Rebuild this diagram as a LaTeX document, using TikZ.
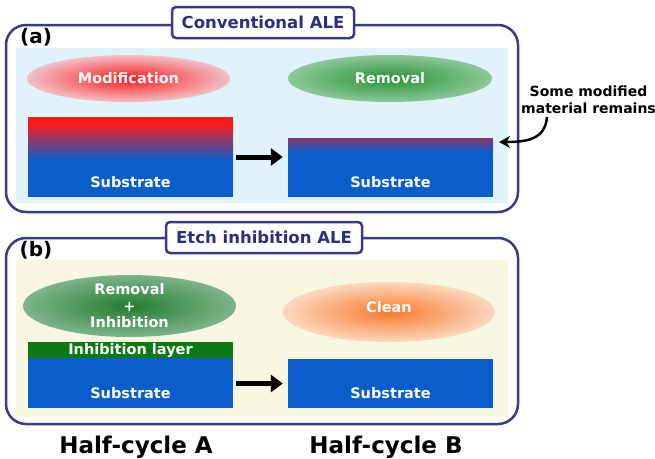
\documentclass[tikz,border=0pt]{standalone}
\usepackage{fontspec}
\setmainfont{DejaVu Sans}
\usetikzlibrary{arrows.meta,shapes.geometric}
\definecolor{navy}{HTML}{3A3A88}
\definecolor{titletext}{HTML}{2E2E7E}
\definecolor{lblue}{HTML}{E0F2FA}
\definecolor{lyellow}{HTML}{F8F8E2}
\definecolor{subblue}{HTML}{0B5DCB}
\definecolor{inhgreen}{HTML}{0A7A12}
\definecolor{modred}{HTML}{FF1A1A}
\definecolor{modpink}{HTML}{F2C0C8}
\definecolor{remgreen}{HTML}{2A9236}
\definecolor{remedge}{HTML}{8CC89A}
\definecolor{cleanor}{HTML}{F87A2A}
\definecolor{cleanedge}{HTML}{FCD8C0}
\definecolor{remains}{HTML}{7A3A78}
\tikzset{
  panel/.style={draw=navy, line width=2.5pt, rounded corners=20pt},
  titlebox/.style={draw=navy, line width=2.5pt, fill=white, rounded corners=4pt,
    text=titletext, font=\bfseries\fontsize{16.5}{18}\selectfont, inner sep=0pt},
  lab/.style={font=\bfseries\fontsize{20}{22}\selectfont, text=black, inner sep=0pt},
  wtext/.style={font=\bfseries\fontsize{14.5}{16}\selectfont, text=white, inner sep=0pt, align=center},
  blob/.style={ellipse, draw=none, inner sep=0pt},
  slab/.style={draw=none, inner sep=0pt, minimum width=205pt},
  bigarrow/.style={line width=5pt, -{Triangle[length=12pt,width=17pt]}},
  halflab/.style={font=\bfseries\fontsize{23}{25}\selectfont, text=black, inner sep=0pt}
}
\begin{document}
\begin{tikzpicture}[x=1pt,y=-1pt]
\useasboundingbox (0,0) rectangle (655,458);
\fill[white] (0,0) rectangle (655,458);

% ---------- panel (a)
\draw[panel] (6,25) rectangle (518,212);
\fill[lblue] (16,48) rectangle (508,203);
\node[titlebox, minimum width=182pt, minimum height=31pt] (ta) at (263,22.5) {Conventional ALE};
\node[lab] (la) at (36,37) {(a)};

\node[blob, inner color=modred, outer color=modpink, minimum width=203pt, minimum height=47pt]
  (mod) at (128.5,78.5) {};
\node[wtext] (modt) at (mod.center) {Modification};
\node[blob, inner color=remgreen, outer color=remedge, minimum width=204pt, minimum height=47pt]
  (rem) at (390,78.5) {};
\node[wtext] (remt) at (rem.center) {Removal};

% left substrate (a)
\fill[modred] (28,117) rectangle (233,123);
\shade[top color=modred, bottom color=subblue] (28,123) rectangle (233,160);
\fill[subblue] (28,160) rectangle (233,197);
\node[slab, minimum height=80pt] (A1) at (130.5,157) {};
\node[wtext] (A1t) at (130.5,182) {Substrate};

% right substrate (a)
\fill[remains] (288,138) rectangle (493,140);
\shade[top color=remains, bottom color=subblue] (288,140) rectangle (493,152);
\fill[subblue] (288,152) rectangle (493,197);
\node[slab, minimum height=59pt] (B1) at (390.5,167.5) {};
\node[wtext] (B1t) at (390.5,182) {Substrate};

\draw[bigarrow] (A1.east) -- (A1.east -| B1.west) [shorten <=3pt, shorten >=5pt];

% note
\node[font=\bfseries\fontsize{14}{17}\selectfont, align=center, inner sep=0pt] (note) at (588.5,99.5)
  {Some modified\\material remains};
\coordinate (cs) at (547,117);
\coordinate (ce) at (499,142);
\draw[line width=2.5pt, -{Stealth[length=11pt,width=12pt]}] (cs) .. controls (545,139) and (528,142) .. (ce);

% ---------- panel (b)
\draw[panel] (6,238) rectangle (518,424);
\fill[lyellow] (16,260) rectangle (508,417);
\node[titlebox, minimum width=196pt, minimum height=31pt] (tb) at (264,237.5) {Etch inhibition ALE};
\node[lab] (lb) at (36,250) {(b)};

\node[blob, inner color=remgreen!85!black, outer color=remedge!90!black, minimum width=213pt, minimum height=62pt]
  (rin) at (129.5,306) {};
\node[wtext, font=\bfseries\fontsize{14.5}{16.5}\selectfont] (rint) at (rin.center) {Removal\\+\\Inhibition};
\node[blob, inner color=cleanor, outer color=cleanedge, minimum width=212pt, minimum height=60pt]
  (cln) at (389,312) {};
\node[wtext] (clnt) at (389,307) {Clean};

% left stack (b)
\fill[inhgreen] (28,342) rectangle (233,358);
\fill[subblue] (28,358) rectangle (233,408);
\node[slab, minimum height=66pt] (A2) at (130.5,375) {};
\node[wtext] (A2i) at (130.5,350.5) {Inhibition layer};
\node[wtext] (A2t) at (130.5,393) {Substrate};

% right substrate (b)
\fill[subblue] (288,359) rectangle (493,408);
\node[slab, minimum height=49pt] (B2) at (390.5,383.5) {};
\node[wtext] (B2t) at (390.5,393) {Substrate};

\draw[bigarrow] (A2.east |- B2.west) -- (B2.west) [shorten <=3pt, shorten >=5pt];

% ---------- bottom labels
\node[halflab] (hA) at (136,447) {Half-cycle A};
\node[halflab] (hB) at (386,447) {Half-cycle B};
\end{tikzpicture}
\end{document}
